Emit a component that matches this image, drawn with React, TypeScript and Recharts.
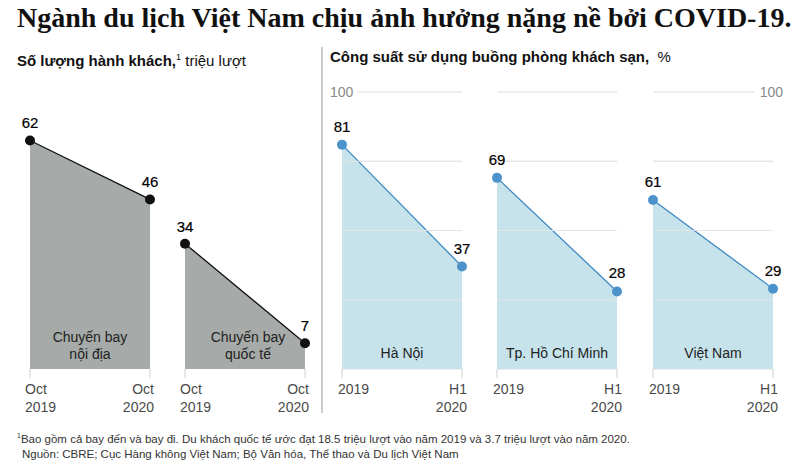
import React from 'react';
import { AreaChart, Area, XAxis, YAxis, CartesianGrid, ReferenceLine, LabelList } from 'recharts';

// ---------- data ----------
const passengerCategories = ['Oct 2019', 'Oct 2020'];
const domesticValues = [62, 46];
const internationalValues = [34, 7];
const passengerLabels = ['Chuyến bay|nội địa', 'Chuyến bay|quốc tế'];

const hotelCategories = ['2019', 'H1 2020'];
const hanoiValues = [81, 37];
const hcmcValues = [69, 28];
const vietnamValues = [61, 29];
const hotelLabels = ['Hà Nội', 'Tp. Hồ Chí Minh', 'Việt Nam'];

const gridTicks = [25, 50, 75, 100];
const innerGridTicks = [25, 50, 75];

const FONT = '"Liberation Sans", Arial, Helvetica, sans-serif';
const GREY_FILL = '#a6aaa8';
const BLUE_FILL = '#c6e3ec';
const BLUE_LINE = '#3f88c2';
const BLUE_DOT = '#4c93cc';

const toData = (cats: string[], vals: number[]) => cats.map((c, i) => ({ cat: c, v: vals[i] }));

const makeXTick = (cats: string[], dxStart: number, dxEnd: number) => (props: any) => {
  const { x, y, payload } = props;
  const first = payload.value === cats[0];
  const parts = String(payload.value).split(' ');
  return (
    <g>
      {parts.map((p: string, i: number) => (
        <text
          key={i}
          x={x + (first ? dxStart : dxEnd)}
          y={y + 14 + i * 18}
          textAnchor={first ? 'start' : 'end'}
          fontSize={14}
          fontFamily={FONT}
          fill="#4a4a4a"
        >
          {p}
        </text>
      ))}
    </g>
  );
};

const valueLabel = (offset: number) => (props: any) => {
  const { x, y, value } = props;
  return (
    <text
      x={x}
      y={y - offset}
      textAnchor="middle"
      fontSize={15}
      fontFamily={FONT}
      fill="#000"
      stroke="#000"
      strokeWidth={0.2}
    >
      {value}
    </text>
  );
};

const PassengerChart = ({ left, values }: { left: number; values: number[] }) => (
  <div style={{ position: 'absolute', left, top: 100 }}>
    <AreaChart width={180} height={330} data={toData(passengerCategories, values)} margin={{ top: 11, right: 30, bottom: 11, left: 30 }}>
      <XAxis
        dataKey="cat"
        axisLine={false}
        tickLine={{ stroke: '#cfcfcf' }}
        tickSize={9}
        height={50}
        interval={0}
        tick={makeXTick(passengerCategories, -5, 4)}
      />
      <YAxis hide domain={[0, 70]} />
      <Area
        type="linear"
        dataKey="v"
        stroke="#111"
        strokeWidth={1.3}
        fill={GREY_FILL}
        fillOpacity={1}
        dot={{ r: 5, fill: '#111', stroke: '#111', strokeWidth: 0 }}
        activeDot={false}
        isAnimationActive={false}
      >
        <LabelList dataKey="v" content={valueLabel(12)} />
      </Area>
    </AreaChart>
  </div>
);

const HundredLeftTick = (props: any) => {
  const { y, payload } = props;
  if (payload.value !== 100) return <g />;
  return (
    <g>
      <rect x={31} y={y - 2} width={16} height={4} fill="#fff" />
      <text x={20} y={y + 5} textAnchor="start" fontSize={14} fontFamily={FONT} fill="#8a8a8a">100</text>
    </g>
  );
};

const HundredRightTick = (props: any) => {
  const { y, payload } = props;
  if (payload.value !== 100) return <g />;
  return (
    <g>
      <rect x={115} y={y - 2} width={19} height={4} fill="#fff" />
      <text x={143} y={y + 5} textAnchor="end" fontSize={14} fontFamily={FONT} fill="#8a8a8a">100</text>
    </g>
  );
};

const HotelChart = ({ left, values, axis }: { left: number; values: number[]; axis: 'left' | 'right' | 'none' }) => {
  const margin =
    axis === 'left'
      ? { top: 12, right: 8, bottom: 11, left: 0 }
      : axis === 'right'
      ? { top: 12, right: 0, bottom: 11, left: 13 }
      : { top: 12, right: 23, bottom: 11, left: 17 };
  return (
    <div style={{ position: 'absolute', left, top: 80 }}>
      <AreaChart width={160} height={350} data={toData(hotelCategories, values)} margin={margin}>
        <CartesianGrid horizontal vertical={false} stroke="#dddddd" strokeWidth={1.2} />
        <XAxis
          dataKey="cat"
          axisLine={false}
          tickLine={{ stroke: '#cfcfcf' }}
          tickSize={9}
          height={50}
          interval={0}
          tick={makeXTick(hotelCategories, -4, 5)}
        />
        {axis === 'none' ? (
          <YAxis hide domain={[0, 100]} ticks={gridTicks} />
        ) : (
          <YAxis
            orientation={axis}
            domain={[0, 100]}
            ticks={gridTicks}
            axisLine={false}
            tickLine={false}
            width={axis === 'left' ? 32 : 27}
            tick={axis === 'left' ? <HundredLeftTick /> : <HundredRightTick />}
          />
        )}
        <Area
          type="linear"
          dataKey="v"
          stroke={BLUE_LINE}
          strokeWidth={1.3}
          fill={BLUE_FILL}
          fillOpacity={1}
          dot={{ r: 5, fill: BLUE_DOT, stroke: BLUE_DOT, strokeWidth: 0 }}
          activeDot={false}
          isAnimationActive={false}
        >
          <LabelList dataKey="v" content={valueLabel(13)} />
        </Area>
        {innerGridTicks.map((t) => (
          <ReferenceLine key={t} y={t} stroke="#e6e6e6" strokeOpacity={0.9} strokeWidth={1.2} ifOverflow="visible" />
        ))}
      </AreaChart>
    </div>
  );
};

const InnerLabel = ({ center, top, text }: { center: number; top: number; text: string }) => (
  <div
    style={{
      position: 'absolute',
      left: center - 70,
      width: 140,
      top,
      textAlign: 'center',
      fontFamily: FONT,
      fontSize: 14,
      lineHeight: '17px',
      color: '#222',
      whiteSpace: 'nowrap',
    }}
  >
    {text.split('|').map((t, i) => (
      <div key={i}>{t}</div>
    ))}
  </div>
);

export default function App() {
  return (
    <div
      style={{
        position: 'absolute',
        left: 0,
        top: 0,
        width: 800,
        height: 474,
        background: '#fff',
        overflow: 'hidden',
        fontFamily: FONT,
      }}
    >
      <div
        style={{
          position: 'absolute',
          left: 17,
          top: 2,
          fontFamily: '"Liberation Serif", "DejaVu Serif", serif',
          fontWeight: 'bold',
          fontSize: 28,
          lineHeight: '32px',
          color: '#111',
          whiteSpace: 'nowrap',
        }}
      >
        Ngành du lịch Việt Nam chịu ảnh hưởng nặng nề bởi COVID-19.
      </div>

      <div style={{ position: 'absolute', left: 17, top: 48, fontSize: 15, lineHeight: '18px', color: '#111', whiteSpace: 'nowrap' }}>
        <span style={{ fontWeight: 'bold' }}>Số lượng hành khách,</span>
        <sup style={{ fontSize: 9 }}>1</sup>
        <span> triệu lượt</span>
      </div>

      <div style={{ position: 'absolute', left: 330, top: 48, fontSize: 15, lineHeight: '18px', color: '#111', whiteSpace: 'nowrap' }}>
        <span style={{ fontWeight: 'bold' }}>Công suất sử dụng buồng phòng khách sạn,</span>
        <span>&nbsp; %</span>
      </div>

      <div style={{ position: 'absolute', left: 321, top: 47, width: 2, height: 366, background: '#cccccc' }} />

      <PassengerChart left={0} values={domesticValues} />
      <PassengerChart left={155} values={internationalValues} />

      <HotelChart left={310} values={hanoiValues} axis="left" />
      <HotelChart left={480} values={hcmcValues} axis="none" />
      <HotelChart left={640} values={vietnamValues} axis="right" />

      <InnerLabel center={90} top={329} text={passengerLabels[0]} />
      <InnerLabel center={248} top={329} text={passengerLabels[1]} />
      <InnerLabel center={402} top={345} text={hotelLabels[0]} />
      <InnerLabel center={557} top={345} text={hotelLabels[1]} />
      <InnerLabel center={713} top={345} text={hotelLabels[2]} />

      <div style={{ position: 'absolute', left: 17, top: 428, fontSize: 11.5, lineHeight: '15px', color: '#333', whiteSpace: 'nowrap' }}>
        <div>
          <sup style={{ fontSize: 7 }}>1</sup>Bao gồm cả bay đến và bay đi. Du khách quốc tế ước đạt 18.5 triệu lượt vào năm 2019 và 3.7 triệu lượt vào năm 2020.
        </div>
        <div style={{ paddingLeft: 5 }}>Nguồn: CBRE; Cục Hàng không Việt Nam; Bộ Văn hóa, Thể thao và Du lịch Việt Nam</div>
      </div>
    </div>
  );
}
